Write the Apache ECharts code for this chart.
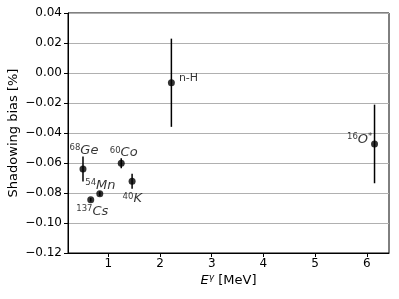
<!DOCTYPE html>
<html><head><meta charset="utf-8">
<script src="https://cdn.jsdelivr.net/npm/echarts@6/dist/echarts.min.js"></script>
<style>html,body{margin:0;padding:0;background:#fff}#c{width:399px;height:299px}</style>
</head><body><div id="c"></div>
<script>
// Data
var sources = ['68Ge', '137Cs', '54Mn', '60Co', '40K', 'n-H', '16O*'];
var energies = [0.51, 0.66, 0.835, 1.25, 1.46, 2.22, 6.15];
var bias = [-0.064, -0.0845, -0.0805, -0.0602, -0.0722, -0.0065, -0.0473];
var errors = [0.0084, 0.0012, 0.0015, 0.0033, 0.005, 0.0294, 0.0262];
var yTicks = [-0.12, -0.10, -0.08, -0.06, -0.04, -0.02, 0.00, 0.02, 0.04];
var xTicks = [1, 2, 3, 4, 5, 6];

// label texts (rich) and placement (style only)
var labelTexts = [
  '{sup|68}{el|Ge}', '{sup|137}{el|Cs}', '{sup|54}{el|Mn}', '{sup|60}{el|Co}',
  '{sup|40}{el|K}', '{plain|n-H}', '{sup|16}{el|O}{sup|*}'
];
var labelPos = [[-10, -22], [-11, 8], [-11, -12], [-8, -14], [-6, 14], [11, -8], [-24, -8]];

var font = 'DejaVu Sans';
var chart = echarts.init(document.getElementById('c'), null, {renderer: 'canvas'});

var pts = energies.map(function (e, i) {
  return {
    value: [e, bias[i]],
    label: {show: true, formatter: labelTexts[i], position: labelPos[i]}
  };
});
var errData = energies.map(function (e, i) { return [e, bias[i] - errors[i], bias[i] + errors[i]]; });

var richStyle = {
  sup: {fontSize: 8.5, fontFamily: font, color: '#000', verticalAlign: 'top', lineHeight: 14},
  el: {fontSize: 13, fontFamily: font, fontStyle: 'italic', color: '#000', lineHeight: 14},
  plain: {fontSize: 11, fontFamily: font, color: '#000', lineHeight: 14}
};

chart.setOption({
  animation: false,
  backgroundColor: '#fff',
  grid: {left: 68, right: 10, top: 13, bottom: 46, outerBoundsMode: 'none', containLabel: false, show: true, borderColor: '#000', borderWidth: 1, backgroundColor: 'transparent'},
  xAxis: {
    type: 'value', min: 0.22, max: 6.43,
    name: '{i|E}{s|γ} [MeV]', nameLocation: 'middle', nameGap: 20, nameMoveOverlap: false,
    nameTextStyle: {
      fontFamily: font, fontSize: 13, color: '#000',
      rich: {
        i: {fontFamily: font, fontSize: 13, fontStyle: 'italic', color: '#000', lineHeight: 16},
        s: {fontFamily: font, fontSize: 9, fontStyle: 'italic', color: '#000', verticalAlign: 'top', lineHeight: 16}
      }
    },
    axisLine: {show: true, onZero: false, lineStyle: {color: '#000', width: 1}},
    axisTick: {show: true, length: 4, inside: false, customValues: xTicks, lineStyle: {color: '#000'}},
    axisLabel: {show: true, customValues: xTicks, fontFamily: font, fontSize: 12, color: '#000', margin: 5},
    splitLine: {show: false}
  },
  yAxis: {
    type: 'value', min: -0.12, max: 0.04, interval: 0.02,
    name: 'Shadowing bias [%]', nameLocation: 'middle', nameGap: 48, nameRotate: 90, nameMoveOverlap: false,
    nameTextStyle: {fontFamily: font, fontSize: 13, color: '#000'},
    axisLine: {show: true, onZero: false, lineStyle: {color: '#000', width: 1}},
    axisTick: {show: true, length: 4, inside: false, lineStyle: {color: '#000'}},
    axisLabel: {
      fontFamily: font, fontSize: 12, color: '#000', margin: 6,
      formatter: function (v) {
        var r = Math.round(v * 100) / 100;
        return (r < 0 ? '\u2212' : '') + Math.abs(r).toFixed(2);
      }
    },
    splitLine: {show: true, lineStyle: {color: '#b0b0b0', width: 1}}
  },
  series: [
    {
      type: 'custom',
      data: errData,
      z: 3,
      renderItem: function (params, api) {
        var p1 = api.coord([api.value(0), api.value(1)]);
        var p2 = api.coord([api.value(0), api.value(2)]);
        return {
          type: 'line',
          shape: {x1: p1[0], y1: p1[1], x2: p2[0], y2: p2[1]},
          style: {stroke: '#000', lineWidth: 1.5}
        };
      }
    },
    {
      type: 'scatter',
      data: pts,
      symbol: 'circle',
      symbolSize: 7,
      z: 4,
      itemStyle: {color: '#000'},
      label: {rich: richStyle, color: '#000'}
    }
  ]
});
</script></body></html>
